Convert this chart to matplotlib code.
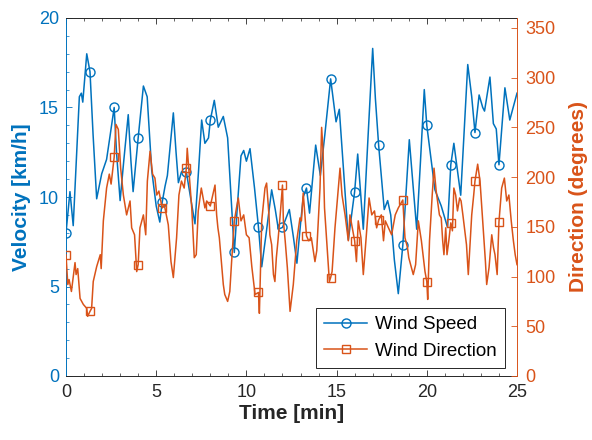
import numpy as np
import matplotlib
matplotlib.use("Agg")
import matplotlib.pyplot as plt
from matplotlib.ticker import MultipleLocator

plt.rcParams['font.family'] = ['Liberation Sans', 'DejaVu Sans']

# Wind speed record [km/h]
t_speed = [0.0, 0.22, 0.4, 0.74, 0.85, 0.93, 1.15, 1.33, 1.5, 1.7, 1.98, 2.25,
           2.44, 2.67, 2.8, 3.0, 3.2, 3.45, 3.6, 3.72, 4.0, 4.29, 4.5, 4.75,
           5.0, 5.2, 5.33, 5.49, 5.62, 5.95, 6.1, 6.23, 6.4, 6.67, 6.9, 7.15,
           7.35, 7.52, 7.7, 7.9, 8.0, 8.22, 8.44, 8.72, 8.96, 9.15, 9.33, 9.5,
           9.7, 9.85, 10.0, 10.2, 10.45, 10.67, 10.85, 11.1, 11.4, 11.6, 11.77,
           12.0, 12.38, 12.6, 12.8, 13.0, 13.15, 13.33, 13.5, 13.84, 14.1,
           14.35, 14.67, 14.97, 15.15, 15.35, 15.65, 16.0, 16.17, 16.48, 16.75,
           17.0, 17.15, 17.33, 17.64, 17.83, 18.0, 18.2, 18.42, 18.67, 19.03,
           19.25, 19.44, 19.65, 19.86, 20.0, 20.45, 20.8, 21.15, 21.33, 21.5,
           21.88, 22.27, 22.49, 22.67, 22.9, 23.1, 23.2, 23.5, 23.69, 23.85,
           24.0, 24.33, 24.6, 25.0]
speed = [8.0, 10.3, 8.4, 15.6, 15.8, 15.3, 18.0, 17.0, 13.5, 9.9, 11.3, 12.1,
         13.4, 15.0, 12.5, 9.8, 12.0, 14.6, 12.0, 10.3, 13.3, 16.2, 15.6, 11.5,
         9.5, 8.6, 9.7, 10.6, 11.2, 14.7, 12.5, 10.8, 11.4, 11.4, 10.0, 8.5,
         11.5, 14.3, 13.0, 13.3, 14.3, 15.4, 13.9, 14.5, 13.3, 10.0, 6.9, 9.5,
         12.3, 12.6, 12.0, 12.7, 10.5, 8.3, 6.1, 8.0, 10.4, 9.3, 8.2,
         8.3, 9.3, 7.8, 6.3, 8.5, 10.0, 10.5, 9.1, 12.9, 11.2,
         13.5, 16.6, 14.2, 14.9, 12.0, 7.6, 10.3, 12.4, 8.2, 13.5,
         18.3, 15.5, 12.9, 9.3, 9.8, 9.0, 6.5, 4.6, 7.3, 13.2,
         10.5, 8.2, 12.0, 16.0, 14.0, 10.4, 9.5, 8.3, 11.8, 13.0,
         10.1, 17.4, 15.6, 13.6, 15.7, 15.0, 14.8, 16.7, 14.1, 13.8,
         11.8, 16.1, 14.3, 15.8]

# Wind direction record [degrees]
t_dir = [0.0, 0.1, 0.17, 0.3, 0.5, 0.56, 0.65, 0.78, 0.96, 1.15, 1.2, 1.33,
         1.42, 1.51, 1.7, 1.9, 1.95, 2.07, 2.25, 2.4, 2.5, 2.67, 2.77, 2.9,
         3.03, 3.18, 3.36, 3.55, 3.64, 3.8, 3.92, 4.0, 4.1, 4.29, 4.42, 4.51,
         4.66, 4.8, 4.93, 5.03, 5.15, 5.33, 5.45, 5.67, 5.82, 5.95, 6.13, 6.26,
         6.4, 6.55, 6.67, 6.72, 6.86, 6.97, 7.11, 7.22, 7.33, 7.5, 7.6, 7.7,
         7.8, 8.0, 8.26, 8.35, 8.42, 8.5, 8.72, 8.8, 8.96, 9.08, 9.18, 9.33,
         9.45, 9.55, 9.7, 9.85, 10.0, 10.15, 10.3, 10.48, 10.67, 10.72, 10.85,
         11.03, 11.12, 11.25, 11.3, 11.4, 11.5, 11.58, 11.66, 11.75, 11.86,
         12.0, 12.05, 12.15, 12.27, 12.42, 12.6, 12.79, 12.97, 13.05, 13.15,
         13.33, 13.45, 13.6, 13.8, 13.9, 14.08, 14.17, 14.25, 14.33, 14.6,
         14.67, 14.75, 14.91, 15.1, 15.19, 15.3, 15.47, 15.65, 15.74, 15.84,
         16.0, 16.1, 16.2, 16.35, 16.48, 16.65, 16.8, 16.95, 17.1, 17.22,
         17.33, 17.48, 17.6, 17.7, 17.8, 18.05, 18.25, 18.42, 18.67, 18.79,
         18.93, 19.0, 19.25, 19.38, 19.53, 19.7, 19.9, 20.0, 20.05, 20.15,
         20.3, 20.4, 20.52, 20.7, 20.8, 20.88, 20.95, 21.05, 21.12, 21.22,
         21.33, 21.42, 21.5, 21.6, 21.7, 21.82, 21.9, 22.0, 22.2, 22.3, 22.49,
         22.6, 22.67, 22.82, 22.95, 23.1, 23.25, 23.32, 23.45, 23.6, 23.7,
         23.78, 23.9, 24.0, 24.15, 24.3, 24.43, 24.55, 24.68, 24.8, 24.9, 25.0]
direction = [122, 92, 97, 85, 114, 102, 108, 78, 72, 68, 60, 65,
             68, 95, 110, 122, 108, 156, 189, 203, 193, 220, 253, 248,
             209, 182, 162, 176, 149, 142, 105, 112, 149, 162, 142, 196,
             226, 203, 199, 182, 186, 169, 172, 152, 115, 99, 139, 182,
             196, 189, 209, 229, 196, 169, 119, 122, 166, 189, 179, 169,
             176, 171, 192, 162, 149, 139, 92, 82, 75, 85, 115, 156,
             169, 179, 156, 162, 142, 139, 110, 82, 84, 63, 156,
             189, 194, 162, 142, 132, 102, 95, 119, 136, 159,
             192, 156, 136, 109, 65, 92, 136, 159, 156, 184,
             141, 136, 139, 115, 126, 189, 250, 226, 169, 95,
             99, 105, 149, 189, 209, 182, 162, 136, 162, 152,
             136, 115, 156, 139, 102, 142, 179, 162, 166, 149,
             157, 162, 136, 156, 152, 142, 162, 169, 177, 139,
             129, 119, 102, 112, 156, 136, 105, 95, 77, 136,
             182, 209, 186, 162, 159, 136, 122, 149, 122, 136,
             154, 146, 189, 182, 166, 179, 176, 162, 132, 102, 162,
             182, 196, 213, 196, 156, 115, 92, 109, 142, 129,
             122, 102, 155, 189, 199, 176, 182, 156, 136, 122, 112]

marker_step = 4.0 / 3.0          # one marker every 80 s
blue = '#0072BD'
orange = '#D95319'
dark = '#262626'


def marker_idx(times):
    times = np.asarray(times)
    targets = np.arange(0, 25.0, marker_step)
    return [int(np.argmin(np.abs(times - tt))) for tt in targets]


fig = plt.figure(figsize=(5.92, 4.40), dpi=100)
ax = fig.add_axes([66 / 592, 1 - 376 / 440, (517 - 66) / 592, (376 - 18) / 440])
ax2 = ax.twinx()

l1, = ax.plot(t_speed, speed, color=blue, lw=1.1, marker='o', ms=6.5,
              mfc='none', mew=1.0, markevery=marker_idx(t_speed),
              label='Wind Speed')
l2, = ax2.plot(t_dir, direction, color=orange, lw=1.1, marker='s', ms=6,
               mfc='none', mew=1.0, markevery=marker_idx(t_dir),
               label='Wind Direction')

ax.set_xlim(0, 25)
ax.set_ylim(0, 20)
ax2.set_ylim(0, 360)
ax.set_xticks([0, 5, 10, 15, 20, 25])
ax.set_yticks([0, 5, 10, 15, 20])
ax2.set_yticks(np.arange(0, 351, 50))
ax.xaxis.set_minor_locator(MultipleLocator(1))
ax.yaxis.set_minor_locator(MultipleLocator(1))

fs_tick = 13
ax.tick_params(axis='x', which='both', direction='in', top=True, colors=dark,
               labelsize=fs_tick, pad=6)
ax.tick_params(axis='x', which='major', length=4.5, width=0.6)
ax.tick_params(axis='x', which='minor', length=2.5, width=0.5)
ax.tick_params(axis='y', which='both', direction='in', right=False,
               colors=blue, labelsize=fs_tick, pad=5)
ax.tick_params(axis='y', which='major', length=4.5, width=0.6)
ax.tick_params(axis='y', which='minor', length=2.5, width=0.5)
ax2.tick_params(axis='y', which='both', direction='in', colors=orange,
                labelsize=fs_tick, length=4.5, width=0.6, pad=6)

ax.spines['left'].set_color(blue)
ax.spines['top'].set_color(dark)
ax.spines['bottom'].set_color(dark)
ax.spines['right'].set_visible(False)
for s in ('left', 'top', 'bottom'):
    ax2.spines[s].set_visible(False)
ax2.spines['right'].set_color(orange)
for a in (ax, ax2):
    for s in a.spines.values():
        s.set_linewidth(0.7)

ax.set_xlabel('Time [min]', fontsize=15, fontweight='bold', color=dark,
              labelpad=2)
ax.set_ylabel('Velocity [km/h]', fontsize=15, fontweight='bold', color=blue,
              labelpad=6)
ax2.set_ylabel('Direction (degrees)', fontsize=15, fontweight='bold',
               color=orange, labelpad=10)

leg = ax2.legend(handles=[l1, l2], loc='lower right',
                 bbox_to_anchor=((505 - 66) / 451, (376 - 368) / 358),
                 borderaxespad=0, fontsize=13.5, frameon=True, fancybox=False,
                 edgecolor=dark, framealpha=1, handlelength=2.3,
                 labelspacing=0.5, borderpad=0.45, handletextpad=0.4)
leg.get_frame().set_linewidth(0.7)
for txt in leg.get_texts():
    txt.set_color('black')

fig.savefig('out.png', dpi=100, facecolor='white')
